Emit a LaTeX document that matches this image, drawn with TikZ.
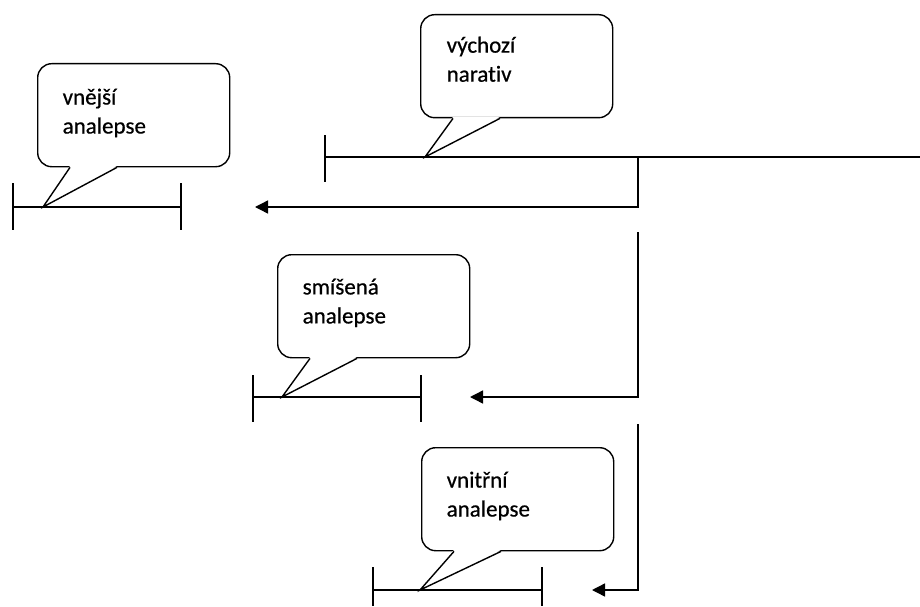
\documentclass[tikz,border=0pt]{standalone}
\usepackage{fontspec}
\setmainfont[Ligatures=NoCommon,FakeBold=0.6]{Carlito}
\usetikzlibrary{positioning}
\usetikzlibrary{arrows.meta}

\tikzset{
 bubble/.style={draw,rounded corners=14pt,minimum width=192pt,minimum height=103pt,anchor=north west,inner sep=0pt},
 word/.style={anchor=north west,align=left,inner sep=0pt,font=\fontsize{23}{29}\selectfont},
 jump/.style={-{Triangle[length=13pt,width=13pt]}},
}

\begin{document}
\begin{tikzpicture}[x=1pt,y=-1pt,line width=1.4pt]
 \useasboundingbox (0,0) rectangle (920,607);
 % vychozi narativ
 \coordinate (n0) at (325,157); \coordinate (n1) at (920,157);
 \coordinate (nb) at (638,157); \coordinate (nb1) at (638,207);
 \draw (325,135)--(325,182);
 \draw (n0)--(n1);
 % vnejsi analepse
 \coordinate (e0) at (13,207); \coordinate (e1) at (181,207);
 \draw (13,183)--(13,230); \draw (181,183)--(181,230);
 \draw (e0)--(e1);
 % smisena analepse
 \coordinate (s0) at (253,397); \coordinate (s1) at (421,397);
 \draw (253,375)--(253,422); \draw (421,375)--(421,422);
 \draw (s0)--(s1);
 % vnitrni analepse
 \coordinate (i0) at (373,590); \coordinate (i1) at (542,590);
 \draw (373,567)--(373,606); \draw (542,567)--(542,606);
 \draw (i0)--(i1);
 % skoky zpet
 \coordinate (ea) at (255,207);
 \coordinate (sb0) at (638,232); \coordinate (sb1) at (638,397); \coordinate (sa) at (470,397);
 \coordinate (ib0) at (638,424); \coordinate (ib1) at (638,590); \coordinate (ia) at (592,590);
 \draw[jump] (nb)--(nb1)--(ea);
 \draw[jump] (sb0)--(sb1)--(sa);
 \draw[jump] (ib0)--(ib1)--(ia);
 % bubliny
 \node[bubble] (vychozi) at (420,14) {};
 \node[bubble] (vnejsi) at (37,63) {};
 \node[bubble] (smisena) at (277,254) {};
 \node[bubble] (vnitrni) at (421,447) {};
 \coordinate (vychozi-t) at (425,157);
 \coordinate (vnejsi-t) at (43,207);
 \coordinate (smisena-t) at (282,397);
 \coordinate (vnitrni-t) at (420,590);
 \foreach \b in {vychozi,vnejsi,smisena,vnitrni}{
  \fill[white] ([xshift=33pt,yshift=1.5pt]\b.south west)--(\b-t)--([xshift=80pt,yshift=1.5pt]\b.south west)--cycle;
  \draw ([xshift=33pt]\b.south west)--(\b-t)--([xshift=80pt]\b.south west);
 }
 \node[word] (vychozi-txt) at ([xshift=26pt,yshift=-22pt]vychozi.north west) {výchozí\\narativ};
 \node[word] (vnejsi-txt) at ([xshift=25pt,yshift=-25pt]vnejsi.north west) {vnější\\analepse};
 \node[word] (smisena-txt) at ([xshift=25pt,yshift=-24pt]smisena.north west) {smíšená\\analepse};
 \node[word] (vnitrni-txt) at ([xshift=25pt,yshift=-24pt]vnitrni.north west) {vnitřní\\analepse};
\end{tikzpicture}
\end{document}
